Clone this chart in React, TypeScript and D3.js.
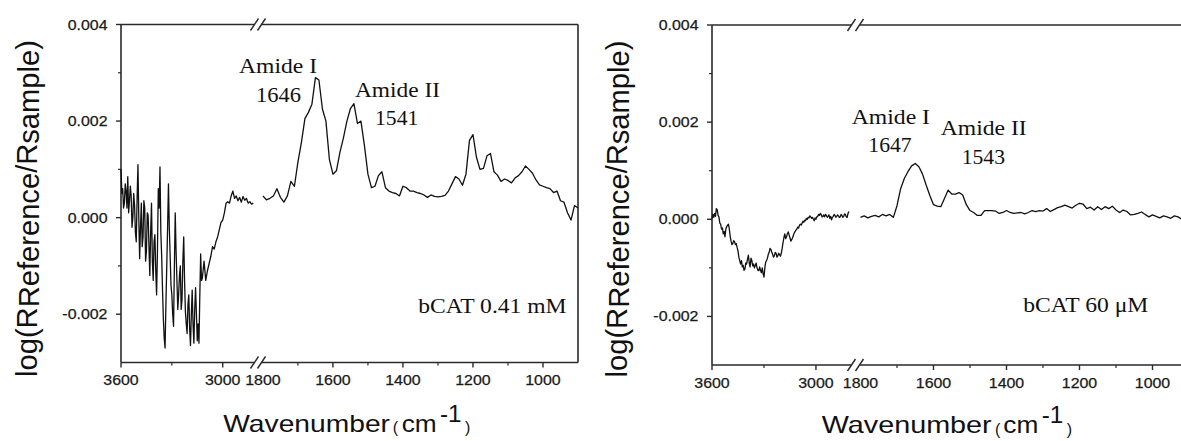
import React from "react";
import * as d3 from "d3";

// ---------- DATA (values in units of 0.001) ----------
const yMajorTicks = [-2, 0, 2, 4];
const yMinorTicks = [-1, 1, 3];
const hiMajorTicks = [3600, 3000];
const hiMinorTicks = [3300];
const loMajorTicks = [1600, 1400, 1200, 1000];
const loMinorTicks = [1700, 1500, 1300, 1100];
const loLabelOnly = [1800];

// Left panel (bCAT 0.41 mM), high-wavenumber segment [wavenumber, value]
const leftHi: [number, number][] = [
  [3600,1.0],[3595,0.5],[3590,0.6],[3585,0.2],[3580,0.3],[3575,0.7],[3570,0.55],[3565,0.2],[3560,0.85],[3555,0.1],
  [3550,0.35],[3545,0.65],[3540,0.45],[3535,-0.2],[3530,0.0],[3525,0.5],[3520,0.25],[3515,-0.3],[3510,-0.5],[3505,0.4],
  [3500,1.1],[3495,0.0],[3490,-0.85],[3485,-0.2],[3480,0.3],[3475,-0.6],[3470,-0.4],[3465,0.35],[3460,0.2],[3455,-0.9],
  [3450,-0.7],[3445,0.1],[3440,0.05],[3435,-0.6],[3430,-1.2],[3425,-0.3],[3420,0.3],[3415,-0.9],[3410,-1.3],[3405,-0.5],
  [3400,-0.35],[3395,-1.1],[3390,-1.6],[3385,-0.7],[3380,0.6],[3375,0.2],[3370,1.05],[3365,-0.3],[3360,-0.8],[3355,-1.5],
  [3350,-2.1],[3345,-2.5],[3340,-2.7],[3335,-1.8],[3330,-1.0],[3325,-0.2],[3320,0.7],[3315,-0.2],[3310,-0.8],[3305,-1.4],
  [3300,-1.6],[3295,-2.0],[3290,-2.25],[3285,-1.0],[3280,0.1],[3275,-0.7],[3270,-1.3],[3265,-1.9],[3260,-1.6],[3255,-1.2],
  [3250,-1.0],[3245,-1.9],[3240,-1.7],[3235,-0.9],[3230,-0.4],[3225,-1.3],[3220,-1.95],[3215,-2.2],[3210,-2.4],[3205,-1.8],
  [3200,-1.6],[3195,-2.3],[3190,-2.65],[3185,-2.0],[3180,-1.5],[3175,-2.2],[3170,-2.6],[3165,-1.9],[3160,-1.45],[3155,-2.0],
  [3150,-2.55],[3145,-2.2],[3140,-2.6],[3135,-1.6],[3130,-0.75],[3125,-1.3],[3120,-1.25],[3110,-0.9],[3100,-1.3],[3090,-1.1],
  [3080,-0.95],[3070,-0.8],[3060,-0.6],[3050,-0.65],[3040,-0.5],[3030,-0.4],[3020,-0.25],[3010,-0.1],[3000,-0.05],[2990,0.1],
  [2980,0.3],[2970,0.33],[2960,0.3],[2950,0.45],[2940,0.55],[2930,0.4],[2920,0.45],[2910,0.35],[2900,0.42],[2890,0.32],
  [2880,0.44],[2870,0.36],[2860,0.4],[2850,0.3],[2840,0.33],[2830,0.28],[2820,0.3],
];

// Left panel, low-wavenumber segment
const leftLo: [number, number][] = [
  [1800,0.45],[1790,0.37],[1780,0.4],[1770,0.45],[1760,0.6],[1750,0.42],[1740,0.32],[1730,0.45],[1720,0.75],[1710,0.65],
  [1700,1.15],[1690,1.56],[1680,2.05],[1670,2.18],[1660,2.35],[1650,2.9],[1640,2.85],[1630,2.25],[1620,2.0],[1610,1.2],
  [1600,0.9],[1590,0.97],[1580,1.35],[1570,1.65],[1560,2.0],[1550,2.26],[1540,2.36],[1530,1.95],[1520,2.0],[1510,1.49],
  [1500,0.9],[1490,0.62],[1480,0.65],[1470,0.87],[1460,0.95],[1450,0.62],[1440,0.55],[1430,0.52],[1420,0.5],[1410,0.45],
  [1400,0.65],[1390,0.62],[1380,0.55],[1370,0.55],[1360,0.52],[1350,0.5],[1340,0.47],[1330,0.42],[1320,0.47],[1310,0.44],
  [1300,0.43],[1290,0.44],[1280,0.46],[1270,0.55],[1260,0.7],[1250,0.85],[1240,0.8],[1230,0.67],[1220,0.9],[1210,1.6],
  [1200,1.72],[1190,1.25],[1180,1.0],[1170,1.02],[1160,1.28],[1150,1.33],[1140,0.95],[1130,0.88],[1120,0.75],[1110,0.8],
  [1100,0.77],[1090,0.72],[1080,0.82],[1070,0.87],[1060,0.95],[1050,1.07],[1040,1.0],[1030,0.92],[1020,0.78],[1010,0.68],
  [1000,0.65],[990,0.62],[980,0.6],[970,0.52],[960,0.55],[950,0.35],[940,0.32],[930,0.1],[920,-0.05],[910,0.25],[900,0.2],
];

// Right panel (bCAT 60 µM), high-wavenumber segment
const rightHi: [number, number][] = [
  [3600,0.02],[3595,0.1],[3590,0.04],[3585,0.12],[3580,0.06],[3575,0.22],[3570,0.2],[3565,0.08],[3560,0.05],[3555,-0.08],
  [3550,-0.1],[3545,-0.2],[3540,-0.18],[3535,-0.3],[3530,-0.25],[3525,-0.36],[3520,-0.2],[3515,-0.15],[3510,-0.12],[3505,-0.1],
  [3500,-0.2],[3495,-0.35],[3490,-0.45],[3485,-0.52],[3480,-0.5],[3475,-0.44],[3470,-0.46],[3465,-0.52],[3460,-0.5],[3455,-0.58],
  [3450,-0.65],[3445,-0.78],[3440,-0.85],[3435,-0.92],[3430,-0.85],[3425,-0.98],[3420,-0.95],[3415,-1.05],[3410,-1.02],[3405,-0.9],
  [3400,-0.92],[3395,-0.82],[3390,-0.74],[3385,-0.9],[3380,-0.98],[3375,-0.8],[3370,-0.85],[3365,-0.96],[3360,-0.92],[3355,-1.0],
  [3350,-0.95],[3345,-0.9],[3340,-1.0],[3335,-1.05],[3330,-1.06],[3325,-0.98],[3320,-1.05],[3315,-1.1],[3310,-1.0],[3305,-1.12],
  [3300,-1.19],[3295,-1.0],[3290,-0.88],[3285,-0.85],[3280,-0.8],[3275,-0.72],[3270,-0.68],[3265,-0.6],[3260,-0.62],[3255,-0.68],
  [3250,-0.72],[3245,-0.78],[3240,-0.75],[3235,-0.68],[3230,-0.7],[3225,-0.78],[3220,-0.75],[3215,-0.7],[3210,-0.73],[3205,-0.76],
  [3200,-0.7],[3195,-0.6],[3190,-0.48],[3185,-0.38],[3180,-0.3],[3175,-0.4],[3170,-0.36],[3165,-0.3],[3160,-0.26],[3155,-0.32],
  [3150,-0.38],[3145,-0.45],[3140,-0.42],[3135,-0.38],[3130,-0.33],[3125,-0.28],[3120,-0.25],[3115,-0.22],[3110,-0.2],[3105,-0.16],
  [3100,-0.18],[3095,-0.12],[3090,-0.1],[3085,-0.12],[3080,-0.08],[3075,-0.04],[3070,-0.06],[3065,-0.02],[3060,-0.03],[3055,0.02],
  [3050,0.0],[3045,0.04],[3040,0.03],[3035,0.07],[3030,0.05],[3025,0.02],[3020,0.04],[3015,0.0],[3010,-0.03],[3005,0.03],
  [3000,0.0],[2995,0.05],[2990,0.06],[2985,0.1],[2980,0.08],[2975,0.12],[2970,0.1],[2965,0.05],[2960,0.06],[2955,0.09],
  [2950,0.05],[2945,0.1],[2940,0.08],[2935,0.04],[2930,0.06],[2925,0.09],[2920,0.02],[2915,0.06],[2910,-0.01],[2905,0.04],
  [2900,0.06],[2895,0.1],[2890,0.08],[2885,0.04],[2880,0.06],[2875,0.09],[2870,0.07],[2865,0.04],[2860,0.05],[2855,0.1],
  [2850,0.08],[2845,0.04],[2840,0.06],[2835,0.11],[2830,0.1],[2825,0.05],[2820,0.04],[2815,0.12],[2810,0.16],
];

// Right panel, low-wavenumber segment
const rightLo: [number, number][] = [
  [1800,0.04],[1790,0.07],[1780,0.03],[1770,0.06],[1760,0.08],[1750,0.05],[1740,0.1],[1730,0.07],[1720,0.1],[1710,0.04],
  [1700,0.28],[1690,0.63],[1680,0.84],[1670,0.98],[1660,1.1],[1650,1.15],[1640,1.08],[1630,0.93],[1620,0.7],[1610,0.49],
  [1600,0.3],[1590,0.27],[1580,0.26],[1570,0.43],[1560,0.6],[1550,0.52],[1540,0.52],[1530,0.55],[1520,0.5],[1510,0.3],
  [1500,0.18],[1490,0.14],[1480,0.08],[1470,0.08],[1460,0.18],[1450,0.18],[1440,0.18],[1430,0.17],[1420,0.12],[1410,0.14],
  [1400,0.18],[1390,0.14],[1380,0.12],[1370,0.13],[1360,0.14],[1350,0.11],[1340,0.14],[1330,0.18],[1320,0.16],[1310,0.18],
  [1300,0.17],[1290,0.22],[1280,0.16],[1270,0.2],[1260,0.24],[1250,0.26],[1240,0.29],[1230,0.26],[1220,0.23],[1210,0.29],
  [1200,0.33],[1190,0.31],[1180,0.22],[1170,0.25],[1160,0.19],[1150,0.26],[1140,0.2],[1130,0.26],[1120,0.22],[1110,0.27],
  [1100,0.19],[1090,0.14],[1080,0.19],[1070,0.16],[1060,0.09],[1050,0.1],[1040,0.12],[1030,0.15],[1020,0.1],[1010,0.05],
  [1000,0.09],[990,0.06],[980,0.03],[970,0.07],[960,0.05],[950,0.02],[940,0.07],[930,0.05],[920,0.0],[910,0.04],[900,0.02],
];

const leftNotes = ["Amide I", "1646", "Amide II", "1541", "bCAT 0.41 mM"];
const rightNotes = ["Amide I", "1647", "Amide II", "1543", "bCAT 60 \u03bcM"];

// ---------- LAYOUT ----------
const SANS = "'Liberation Sans', Arial, sans-serif";
const SERIF = "'Liberation Serif', 'Times New Roman', serif";
const AXIS = "#2a2a2a";

type Cfg = {
  x0: number; xb1: number; brk1: number; brk2: number; xb2: number; x1: number;
  yt: number; yb: number; titleX: number; titleY: number;
  notes: { x: number; y: number; w: number }[];
  xt: { wave: number; paren1: number; cm: number; sup: number; paren2: number; base: number; supBase: number; waveW: number };
};

const leftCfg: Cfg = {
  x0: 121, xb1: 256.6, brk1: 254.5, brk2: 261.5, xb2: 262.9, x1: 578,
  yt: 24.5, yb: 362.5, titleX: 36.5, titleY: 208.5,
  notes: [
    { x: 239, y: 72.7, w: 78 },
    { x: 256, y: 101.7, w: 45 },
    { x: 355, y: 96.7, w: 85 },
    { x: 375, y: 125, w: 43.3 },
    { x: 418.3, y: 312.7, w: 148.3 },
  ],
  xt: { wave: 223.3, waveW: 166.7, paren1: 392.7, cm: 401.7, sup: 440, paren2: 465, base: 431.7, supBase: 421.7 },
};

const rightCfg: Cfg = {
  x0: 712, xb1: 850.6, brk1: 851.5, brk2: 859.5, xb2: 860.5, x1: 1189,
  yt: 25, yb: 365, titleX: 626.5, titleY: 209,
  notes: [
    { x: 851.7, y: 124.3, w: 78.3 },
    { x: 868.3, y: 152, w: 43.4 },
    { x: 940.7, y: 135, w: 86 },
    { x: 961.7, y: 164, w: 43.3 },
    { x: 1023.3, y: 311.7, w: 125 },
  ],
  xt: { wave: 821.7, waveW: 170, paren1: 995, cm: 1003.3, sup: 1041.7, paren2: 1066.7, base: 433.3, supBase: 423.3 },
};

const TICK_F = 14.5;
function sansWidth(s: string) {
  let w = 0;
  for (const c of s) w += c === "." ? 0.278 : c === "-" ? 0.333 : 0.556;
  return w * 13.5 * 1.18;
}

function Panel({ cfg, hi, lo, notes }: { cfg: Cfg; hi: [number, number][]; lo: [number, number][]; notes: string[] }) {
  const xHi = d3.scaleLinear().domain([3600, 2800]).range([cfg.x0, cfg.xb1]);
  const xLo = d3.scaleLinear().domain([1800, 900]).range([cfg.xb2, cfg.x1]);
  const y = d3.scaleLinear().domain([-3, 4]).range([cfg.yb, cfg.yt]);

  const hiLine = d3.line<[number, number]>().x((d) => xHi(d[0])).y((d) => y(d[1]));
  const loLine = d3.line<[number, number]>().x((d) => xLo(d[0])).y((d) => y(d[1]));

  const fmt = (v: number) => (v / 1000).toFixed(3);
  const slash = (cx: number, cy: number, k: string) => (
    <line key={k} x1={cx - 4} y1={cy + 6} x2={cx + 4} y2={cy - 6} stroke={AXIS} strokeWidth={1.4} />
  );
  const tickText = (x: number, yy: number, s: string, anchor: "end" | "middle", k: string) => (
    <text key={k} x={x} y={yy} textAnchor={anchor} fontFamily={SANS} fontSize={TICK_F} fill="#1a1a1a"
      stroke="#1a1a1a" strokeWidth={0.25} textLength={sansWidth(s)} lengthAdjust="spacingAndGlyphs">{s}</text>
  );

  return (
    <g>
      <g stroke={AXIS} strokeWidth={1.6} fill="none">
        <line x1={cfg.x0} y1={cfg.yt} x2={cfg.x0} y2={cfg.yb} />
        <line x1={cfg.x1} y1={cfg.yt} x2={cfg.x1} y2={cfg.yb} />
        <line x1={cfg.x0} y1={cfg.yt} x2={cfg.brk1} y2={cfg.yt} />
        <line x1={cfg.brk2} y1={cfg.yt} x2={cfg.x1} y2={cfg.yt} />
        <line x1={cfg.x0} y1={cfg.yb} x2={cfg.brk1} y2={cfg.yb} />
        <line x1={cfg.brk2} y1={cfg.yb} x2={cfg.x1} y2={cfg.yb} />
      </g>
      {slash(cfg.brk1, cfg.yt, "s1")}
      {slash(cfg.brk2, cfg.yt, "s2")}
      {slash(cfg.brk1, cfg.yb, "s3")}
      {slash(cfg.brk2, cfg.yb, "s4")}

      {yMajorTicks.map((t) => (
        <g key={"ym" + t}>
          <line x1={cfg.x0 - 5} x2={cfg.x0} y1={y(t)} y2={y(t)} stroke={AXIS} strokeWidth={1.4} />
          {tickText(cfg.x0 - 13.5, y(t) + 5, fmt(t), "end", "yt" + t)}
        </g>
      ))}
      {yMinorTicks.map((t) => (
        <line key={"yn" + t} x1={cfg.x0 - 3} x2={cfg.x0} y1={y(t)} y2={y(t)} stroke={AXIS} strokeWidth={1.2} />
      ))}

      {hiMajorTicks.map((t) => (
        <g key={"hm" + t}>
          <line x1={xHi(t)} x2={xHi(t)} y1={cfg.yb} y2={cfg.yb + 5} stroke={AXIS} strokeWidth={1.4} />
          {tickText(xHi(t), cfg.yb + 22.5, String(t), "middle", "ht" + t)}
        </g>
      ))}
      {hiMinorTicks.map((t) => (
        <line key={"hn" + t} x1={xHi(t)} x2={xHi(t)} y1={cfg.yb} y2={cfg.yb + 3} stroke={AXIS} strokeWidth={1.2} />
      ))}
      {loMajorTicks.map((t) => (
        <g key={"lm" + t}>
          <line x1={xLo(t)} x2={xLo(t)} y1={cfg.yb} y2={cfg.yb + 5} stroke={AXIS} strokeWidth={1.4} />
          {tickText(xLo(t), cfg.yb + 22.5, String(t), "middle", "lt" + t)}
        </g>
      ))}
      {loLabelOnly.map((t) => tickText(xLo(t), cfg.yb + 22.5, String(t), "middle", "lo" + t))}
      {loMinorTicks.map((t) => (
        <line key={"ln" + t} x1={xLo(t)} x2={xLo(t)} y1={cfg.yb} y2={cfg.yb + 3} stroke={AXIS} strokeWidth={1.2} />
      ))}

      <path d={hiLine(hi) || ""} fill="none" stroke="#111" strokeWidth={1.3} strokeLinejoin="round" />
      <path d={loLine(lo) || ""} fill="none" stroke="#111" strokeWidth={1.3} strokeLinejoin="round" />

      {notes.map((s, i) => (
        <text key={"n" + i} x={cfg.notes[i].x} y={cfg.notes[i].y} fontFamily={SERIF} fontSize={21} fill="#111"
          textLength={cfg.notes[i].w} lengthAdjust="spacingAndGlyphs">{s}</text>
      ))}

      <text transform={`translate(${cfg.titleX},${cfg.titleY}) rotate(-90)`} textAnchor="middle"
        fontFamily={SANS} fontSize={29} fill="#111" textLength={337} lengthAdjust="spacingAndGlyphs">
        log(R<tspan dy={2}>Reference</tspan><tspan dy={-2}>/R</tspan><tspan dy={2}>sample</tspan><tspan dy={-2}>)</tspan>
      </text>

      <g fontFamily={SANS} fill="#111">
        <text x={cfg.xt.wave} y={cfg.xt.base} fontSize={24} textLength={cfg.xt.waveW} lengthAdjust="spacingAndGlyphs">Wavenumber</text>
        <text x={cfg.xt.paren1} y={cfg.xt.base + 1.5} fontSize={16}>(</text>
        <text x={cfg.xt.cm} y={cfg.xt.base} fontSize={24} textLength={35} lengthAdjust="spacingAndGlyphs">cm</text>
        <text x={cfg.xt.sup} y={cfg.xt.supBase} fontSize={24} textLength={21.6} lengthAdjust="spacingAndGlyphs">-1</text>
        <text x={cfg.xt.paren2} y={cfg.xt.base + 1.5} fontSize={16}>)</text>
      </g>
    </g>
  );
}

export default function App() {
  return (
    <svg width={1181} height={441} style={{ position: "absolute", left: 0, top: 0, background: "#fff" }}>
      <rect width={1181} height={441} fill="#fff" />
      <Panel cfg={leftCfg} hi={leftHi} lo={leftLo} notes={leftNotes} />
      <Panel cfg={rightCfg} hi={rightHi} lo={rightLo} notes={rightNotes} />
    </svg>
  );
}
